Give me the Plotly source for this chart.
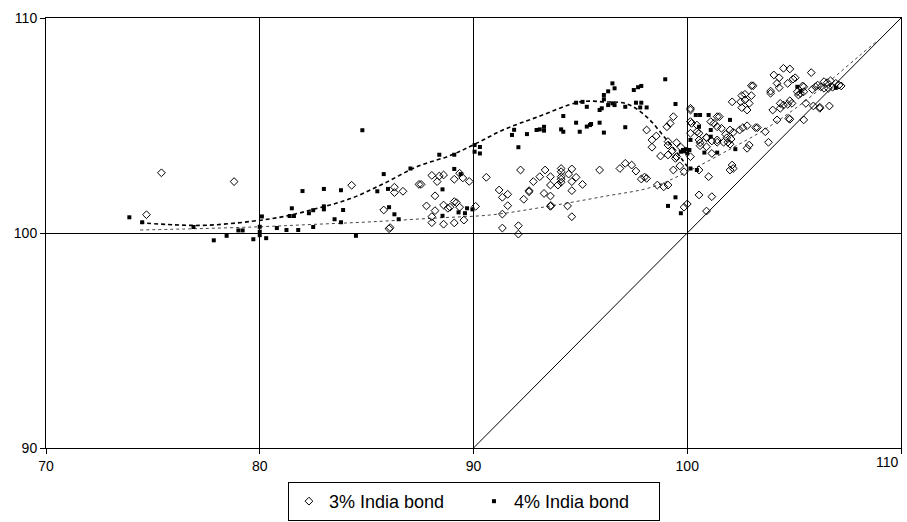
import plotly.graph_objects as go

# ---- data: 3% India bond (open diamonds) ----
bond3_x = [75.4, 78.8, 74.7, 84.3, 86.05, 86.1, 86.3, 86.3, 86.7, 85.8, 87.45, 87.55, 88.05, 88.4, 88.6, 88.3,
           88.2, 87.8, 88.2, 88.05, 88.05, 88.6, 88.6, 88.8, 88.9, 89.1, 89.2, 89.1, 89.1, 89.35, 89.5, 89.35,
           89.55, 89.8, 90.1, 90.6, 91.2, 91.35, 91.6, 91.6, 91.35, 91.35, 92.1, 92.1, 92.2, 92.35, 92.6, 92.6,
           92.8, 93.1, 93.35, 93.3, 93.6, 93.6, 93.6, 93.6, 93.62, 94.1, 94.1, 94.1, 94.1, 94.1, 93.95, 94.4,
           94.45, 94.6, 94.6, 94.6, 94.6, 94.8, 95.1, 95.9, 96.85, 97.1, 97.4, 97.6, 97.85, 98.1, 98.0, 98.6,
           98.9, 99.1, 98.1, 98.35, 98.35, 98.55, 98.75, 99.05, 99.2, 99.35, 99.1, 99.1, 99.3, 99.1, 99.5, 99.7,
           99.5, 99.45, 99.35, 99.65, 99.85, 99.85, 100.0, 100.15, 100.15, 100.45, 100.45, 100.55, 100.15, 100.15,
           100.55, 100.6, 100.9, 101.4, 100.9, 101.15, 100.55, 101.0, 100.55, 101.15, 100.9, 102.1, 103.0, 103.08,
           102.55, 102.7, 103.0, 102.5, 102.7, 102.9, 102.55, 102.8, 103.9, 103.9, 104.05, 104.3, 104.5, 104.8,
           104.3, 104.7, 104.95, 105.2, 104.9, 104.7, 104.5, 104.35, 104.0, 104.75, 104.2, 103.8, 103.65, 103.2,
           103.28, 102.8, 102.6, 102.45, 102.0, 102.15, 102.05, 101.8, 101.85, 101.9, 102.0, 101.7, 101.4, 101.15,
           100.9, 101.4, 101.6, 101.4, 101.5, 101.1, 101.25, 100.2, 100.15, 100.6, 102.9, 102.8, 102.1, 102.15,
           102.0, 105.05, 105.4, 105.8, 106.0, 106.1, 106.4, 106.55, 106.7, 106.95, 107.1, 107.2, 106.25, 106.4,
           106.6, 106.8, 105.15, 105.3, 105.45, 104.2, 104.35, 104.8, 104.8, 105.55, 105.9, 106.2, 106.65, 105.45,
           105.45, 105.85, 106.2]
bond3_y = [102.8, 102.39, 100.85, 102.22, 100.2, 100.25, 102.13, 101.88, 101.94, 101.07, 102.26, 102.26, 102.68,
           102.65, 102.7, 102.39, 101.73, 101.26, 101.04, 100.76, 100.48, 100.41, 101.3, 101.15, 101.2, 101.46,
           101.41, 100.47, 102.5, 102.78, 102.56, 101.2, 100.6, 102.4, 101.24, 102.59, 102.0, 101.66, 101.8,
           101.27, 100.88, 100.23, 100.34, 99.95, 102.93, 101.57, 101.97, 101.92, 102.39, 102.62, 102.93, 101.84,
           102.62, 102.23, 101.72, 101.24, 101.28, 103.0, 102.85, 102.62, 102.5, 102.36, 102.23, 101.26, 102.74,
           102.98, 102.39, 101.97, 100.76, 102.59, 102.26, 102.93, 103.0, 103.24, 103.16, 102.88, 102.51, 102.54,
           102.6, 102.23, 102.15, 102.23, 104.79, 104.33, 103.99, 104.51, 103.58, 104.94, 105.1, 105.41, 104.25,
           104.09, 103.83, 103.63, 104.2, 103.99, 103.55, 103.47, 102.93, 103.12, 102.85, 101.2, 101.35, 105.72,
           105.18, 105.02, 104.71, 104.33, 104.64, 103.55, 104.64, 104.2, 104.45, 104.33, 104.01, 103.7, 102.93,
           102.62, 101.77, 101.69, 101.02, 106.1, 106.85, 106.85, 106.39, 106.45, 106.39, 106.1, 106.19, 106.03,
           105.83, 105.72, 106.6, 106.5, 107.35, 107.22, 107.66, 107.63, 106.76, 106.96, 107.16, 106.42, 106.03,
           105.99, 105.95, 105.8, 105.72, 105.33, 105.26, 104.22, 104.71, 104.9, 104.9, 104.99, 104.9, 104.79,
           104.79, 104.68, 104.37, 104.59, 104.43, 104.22, 104.13, 104.22, 104.22, 104.28, 104.43, 104.94, 104.87,
           105.41, 105.41, 105.18, 105.1, 105.1, 105.8, 104.06, 104.09, 103.94, 103.16, 103.0, 102.93, 107.22,
           106.84, 107.46, 106.8, 106.88, 107.04, 106.99, 107.08, 106.96, 106.88, 106.84, 106.8, 106.73, 106.73,
           106.78, 106.57, 106.5, 106.57, 106.96, 106.03, 106.15, 105.29, 106.03, 105.91, 105.85, 105.91, 105.26,
           106.8, 106.68, 105.8]

# ---- data: 4% India bond (filled squares) ----
bond4_x = [73.9, 74.5, 76.9, 77.85, 78.45, 79.0, 79.2, 79.7, 80.0, 80.0, 80.0, 80.1, 80.3, 80.8, 81.25, 81.4,
           81.5, 81.6, 81.8, 82.0, 82.3, 82.5, 82.5, 83.0, 83.0, 83.0, 83.5, 83.8, 83.8, 83.9, 84.8, 84.5, 85.5,
           85.8, 86.0, 86.05, 86.3, 86.5, 87.05, 88.4, 89.1, 88.55, 89.1, 89.4, 88.55, 89.3, 89.6, 89.7, 89.95,
           90.05, 90.05, 90.3, 90.3, 91.8, 91.9, 92.1, 92.5, 92.95, 93.1, 93.3, 93.3, 94.1, 94.2, 94.2, 94.8,
           94.8, 94.97, 95.1, 95.3, 95.3, 95.45, 95.5, 95.9, 95.9, 96.0, 96.1, 96.1, 96.1, 96.3, 96.5, 96.6, 96.3,
           96.5, 96.6, 97.1, 97.1, 97.5, 97.7, 97.85, 97.6, 97.8, 97.85, 98.1, 98.97, 99.45, 99.1, 99.45, 99.7,
           100.15, 99.8, 99.95, 100.1, 99.7, 100.4, 100.15, 100.45, 100.6, 101.0, 100.55, 101.1, 100.8, 101.4,
           99.85, 100.0, 101.1, 102.0, 102.25, 105.15, 105.3, 106.95]
bond4_y = [100.73, 100.5, 100.28, 99.66, 99.87, 100.12, 100.12, 99.71, 100.06, 100.29, 99.9, 100.77, 99.76,
           100.23, 100.14, 100.79, 101.15, 100.79, 100.14, 101.95, 100.92, 101.06, 100.28, 102.05, 101.24, 101.1,
           100.64, 101.99, 100.5, 101.07, 104.78, 99.87, 101.94, 102.74, 102.05, 101.2, 100.87, 100.64, 103.0,
           103.64, 103.64, 102.03, 102.98, 102.74, 100.8, 100.96, 100.92, 101.15, 101.1, 104.09, 103.78, 104.0,
           103.7, 104.56, 104.8, 103.99, 104.6, 104.79, 104.82, 104.94, 104.76, 104.82, 105.44, 104.71, 106.06,
           105.13, 104.71, 106.1, 105.87, 104.95, 105.02, 105.07, 105.13, 105.72, 105.8, 106.22, 106.42, 104.67,
           106.59, 106.96, 106.73, 105.95, 106.03, 105.95, 105.87, 104.92, 106.65, 106.78, 106.84, 106.06, 105.84,
           106.06, 105.84, 107.15, 106.0, 101.26, 101.66, 100.92, 104.33, 103.86, 103.9, 103.86, 103.78, 105.49,
           103.0, 102.93, 105.49, 105.49, 104.94, 104.79, 103.74, 103.74, 103.8, 103.7, 104.48, 105.26, 103.9,
           106.8, 106.6, 106.75]

# ---- trend lines ----
trend3_x = [74.4, 77.0, 80.0, 82.5, 85.2, 88.3, 90.8, 93.0, 96.1, 98.4, 100.2, 102.0, 103.6, 105.2, 106.7, 108.0, 108.9]
trend3_y = [100.14, 100.2, 100.29, 100.4, 100.52, 100.7, 100.84, 101.16, 101.7, 102.15, 102.95, 103.9, 104.8,
            105.9, 107.1, 108.2, 108.95]
trend4_x = [74.4, 76.0, 77.5, 79.6, 81.1, 82.7, 84.25, 85.8, 87.4, 88.9, 90.1, 91.4, 93.0, 95.0, 96.1, 97.2,
            98.1, 98.9, 99.7, 100.0]
trend4_y = [100.48, 100.38, 100.36, 100.54, 100.76, 101.15, 101.6, 102.3, 103.1, 103.6, 104.15, 104.8, 105.4,
            106.1, 106.1, 106.0, 105.4, 104.5, 103.5, 103.1]

# 45-degree reference line (price = parity)
diag_x = [90, 110]
diag_y = [90, 110]

series_names = ["3% India bond", "4% India bond"]
x_ticks = [70, 80, 90, 100, 110]
x_tick_labels = ["70", "80", "90", "100", "110"]
y_ticks = [90, 100, 110]

FONT = "Liberation Sans, Arial, sans-serif"

fig = go.Figure()

fig.add_trace(go.Scatter(x=diag_x, y=diag_y, mode="lines", line=dict(color="black", width=1),
                         showlegend=False, hoverinfo="skip"))
fig.add_trace(go.Scatter(x=trend3_x, y=trend3_y, mode="lines",
                         line=dict(color="#444444", width=1, dash="dot", shape="spline"),
                         showlegend=False, hoverinfo="skip"))
fig.add_trace(go.Scatter(x=trend4_x, y=trend4_y, mode="lines",
                         line=dict(color="black", width=1.6, dash="4px,3px", shape="spline"),
                         showlegend=False, hoverinfo="skip"))
fig.add_trace(go.Scatter(x=bond3_x, y=bond3_y, mode="markers", name=series_names[0],
                         marker=dict(symbol="diamond-open", size=6, color="black", line=dict(width=1))))
fig.add_trace(go.Scatter(x=bond4_x, y=bond4_y, mode="markers", name=series_names[1],
                         marker=dict(symbol="square", size=4, color="black")))

axis_common = dict(showgrid=True, gridcolor="black", gridwidth=1, showline=True, linecolor="black",
                   linewidth=1, mirror=True, ticks="outside", ticklen=5, tickcolor="black",
                   zeroline=False, automargin=False,
                   tickfont=dict(family=FONT, size=14, color="black"))

# last x label is drawn right-aligned at the plot edge (as in the original)
fig.update_xaxes(range=[70, 110], tickvals=x_ticks, ticktext=x_tick_labels[:-1] + [""], **axis_common)
fig.update_yaxes(range=[90, 110], tickvals=y_ticks, **axis_common)

fig.add_annotation(x=x_ticks[-1], y=0, xref="x", yref="paper", text=x_tick_labels[-1],
                   showarrow=False, xanchor="right", yanchor="top", yshift=-4, xshift=0,
                   font=dict(family=FONT, size=14, color="black"))

fig.update_layout(
    width=907, height=522,
    margin=dict(l=46, r=6, t=18, b=74, autoexpand=False),
    paper_bgcolor="white", plot_bgcolor="white",
    font=dict(family=FONT, size=18, color="black"),
    legend=dict(orientation="h", x=0.283, xanchor="left", y=-0.079, yanchor="top",
                bordercolor="black", borderwidth=1, bgcolor="white",
                font=dict(family=FONT, size=18, color="black"),
                itemwidth=30, entrywidth=140),
    showlegend=True,
)

fig.write_html("out.html", config={"displayModeBar": False},
               post_script="document.body.style.margin='0';document.body.style.overflow='hidden';")
